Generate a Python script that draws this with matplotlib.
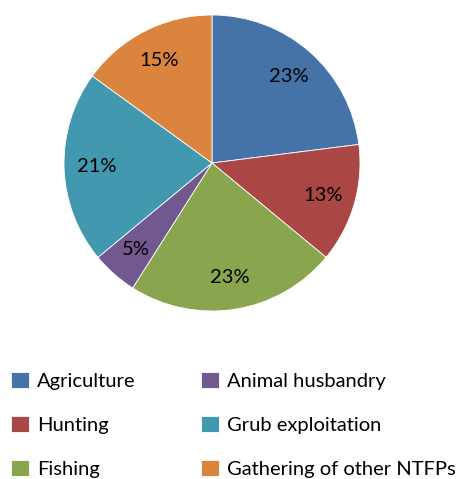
import matplotlib
matplotlib.use("Agg")
import matplotlib.pyplot as plt

# Livelihood activity shares
categories = ["Agriculture", "Hunting", "Fishing", "Animal husbandry",
              "Grub exploitation", "Gathering of other NTFPs"]
shares = [23, 13, 23, 5, 21, 15]
colors = ["#4572A7", "#AA4643", "#89A54E", "#71588F", "#4198AF", "#DB843D"]

plt.rcParams['font.family'] = ['Lato', 'DejaVu Sans']

W, H = 458, 479
fig = plt.figure(figsize=(W / 100, H / 100), dpi=100)

# Pie centred at (212, 163) px with radius ~148 px
cx, cy, r = 212, 163, 148
ax = fig.add_axes([(cx - r) / W, 1 - (cy + r) / H, 2 * r / W, 2 * r / H])
wedges, texts, autotexts = ax.pie(
    shares, colors=colors, startangle=90, counterclock=False,
    autopct=lambda p: f"{p:.0f}%", pctdistance=0.78,
    wedgeprops=dict(linewidth=0.6, edgecolor="white"),
    textprops=dict(fontsize=14.5, color="black"))
ax.set_aspect("equal")
ax.set_xlim(-1, 1)
ax.set_ylim(-1, 1)

leg = fig.legend(wedges, categories, ncol=2, loc="upper left",
                 bbox_to_anchor=(11 / W, 1 - 372 / H), frameon=False,
                 fontsize=14.5, handlelength=0.88, handleheight=0.88,
                 handletextpad=0.42, columnspacing=3.25, labelspacing=1.28,
                 borderaxespad=0, borderpad=0)

fig.savefig("out.png", dpi=100)
